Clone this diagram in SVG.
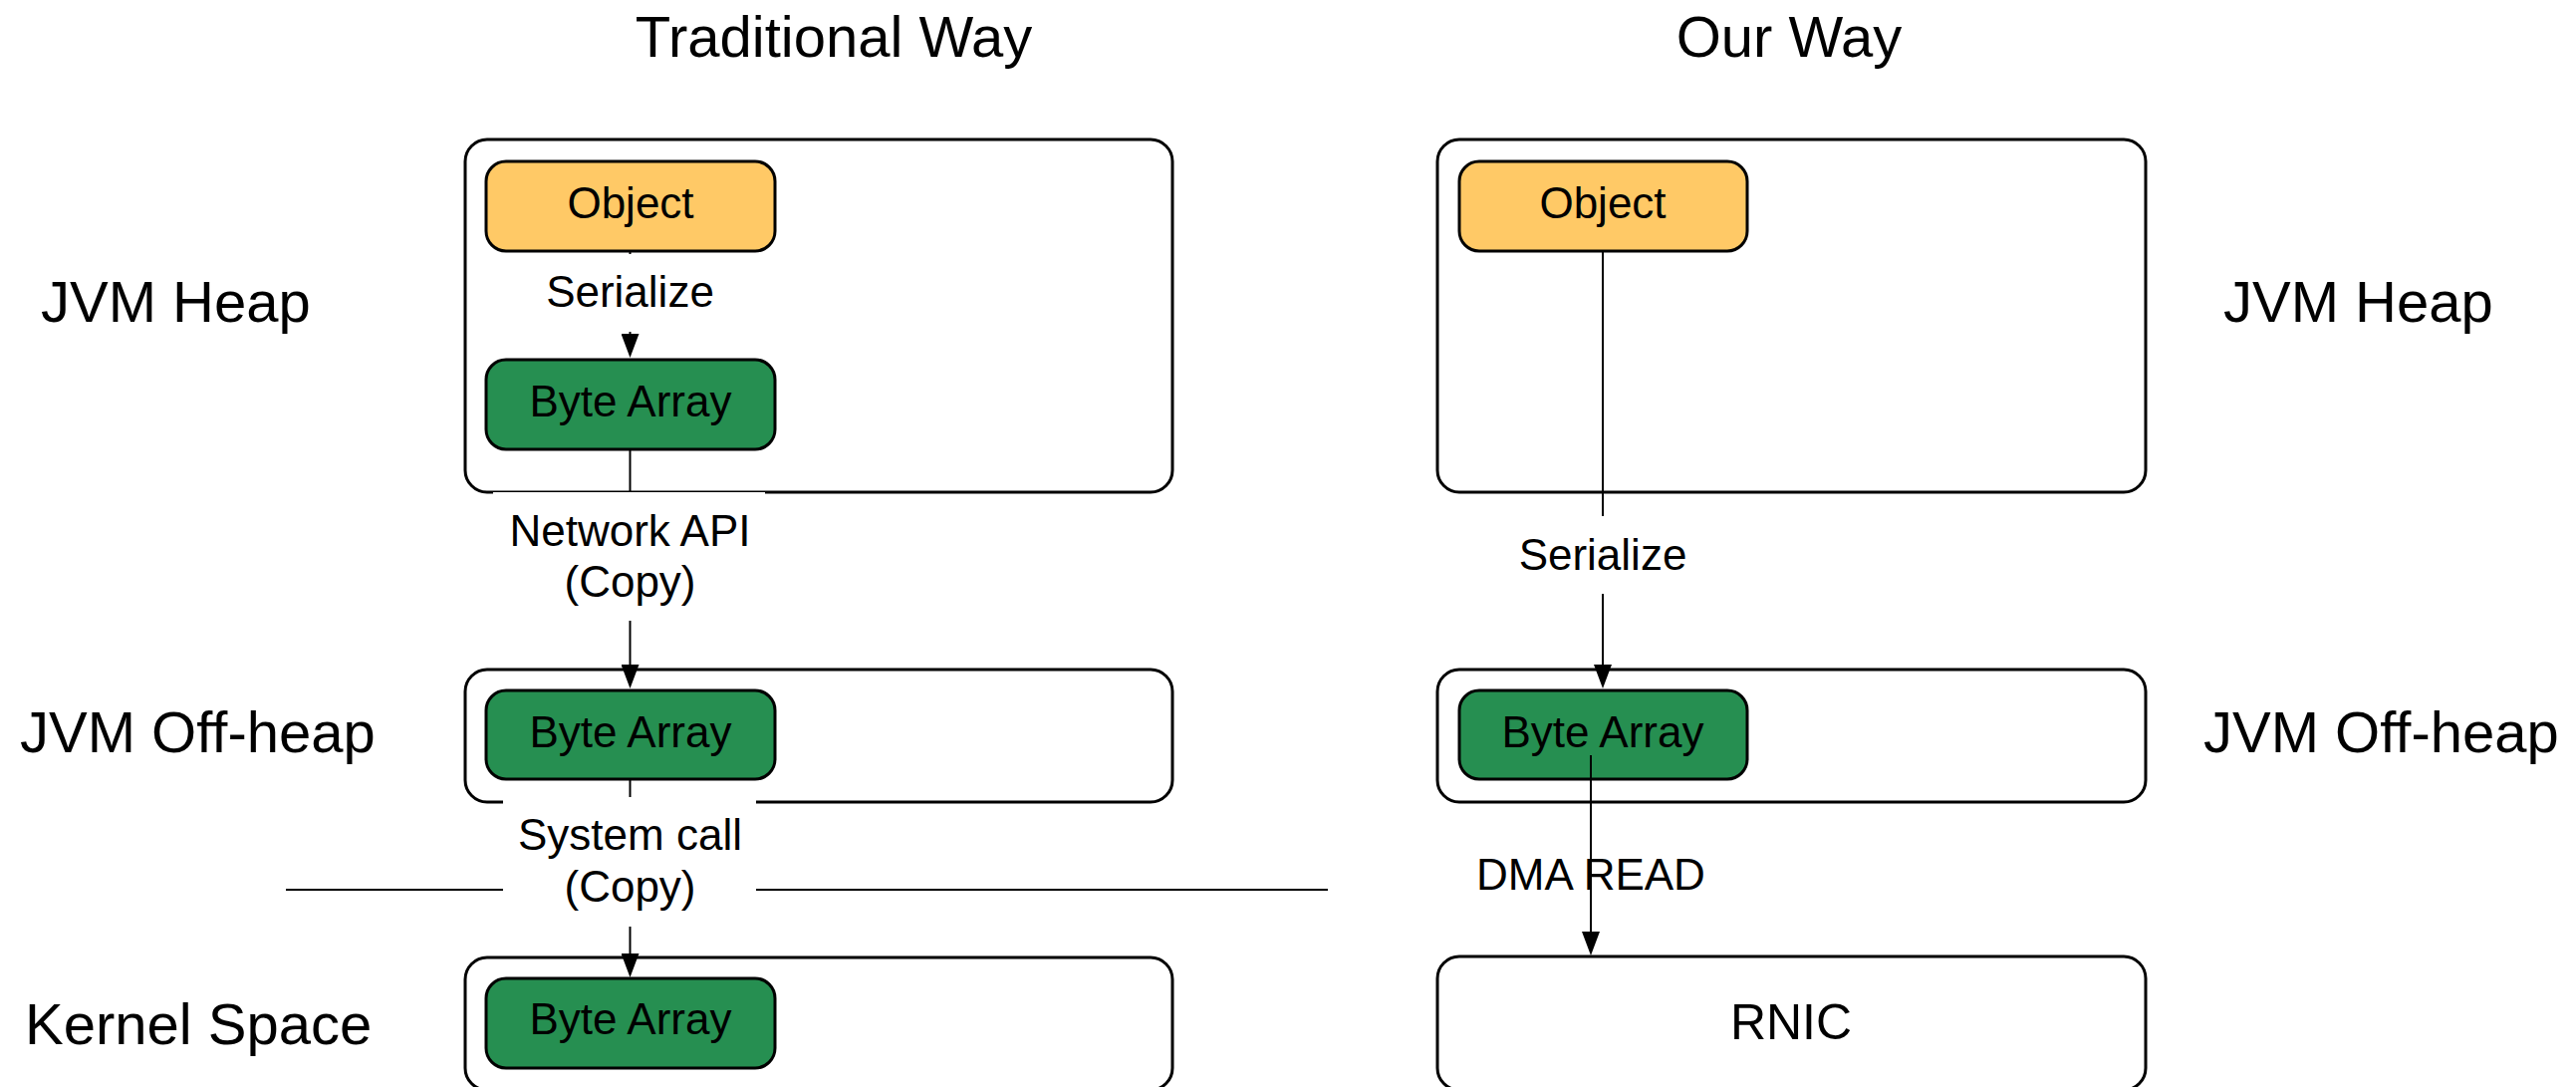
<svg xmlns="http://www.w3.org/2000/svg" width="2586" height="1091" viewBox="0 0 2586 1091">
<style>
  .t { font-family: "Liberation Sans", Arial, sans-serif; fill: #000; }
  .title { font-size: 58px; text-anchor: middle; }
  .side { font-size: 58px; }
  .lbl { font-size: 44px; text-anchor: middle; }
  .outer { fill: #fff; stroke: #000; stroke-width: 3; }
  .obj { fill: #FFC966; stroke: #000; stroke-width: 3; }
  .byte { fill: #268F51; stroke: #000; stroke-width: 3; }
  .conn { stroke: #000; stroke-width: 2; fill: none; marker-end: url(#arrow); }
  .plain { stroke: #000; stroke-width: 2; fill: none; }
  .bg { fill: #fff; stroke: none; }
</style>
<defs>
  <marker id="arrow" markerUnits="userSpaceOnUse" markerWidth="24" markerHeight="18" viewBox="0 0 24 18" refX="0" refY="9" orient="auto">
    <path d="M0,0 L24,9 L0,18 z" fill="#000"/>
  </marker>
</defs>
<rect width="2586" height="1091" fill="#fff"/>

<g id="titles">
  <text class="t title" x="837" y="57">Traditional Way</text>
  <text class="t title" x="1796" y="57">Our Way</text>
</g>

<g id="side-labels">
  <text class="t side" x="41" y="323">JVM Heap</text>
  <text class="t side" x="20" y="755">JVM Off-heap</text>
  <text class="t side" x="25" y="1048">Kernel Space</text>
  <text class="t side" x="2232" y="323">JVM Heap</text>
  <text class="t side" x="2212" y="755">JVM Off-heap</text>
</g>

<g id="separator">
  <line class="plain" x1="287" y1="893" x2="1333" y2="893"/>
</g>

<g id="left-heap">
  <rect class="outer" x="467" y="140" width="710" height="354" rx="22"/>
</g>
<g id="left-offheap">
  <rect class="outer" x="467" y="672" width="710" height="133" rx="22"/>
</g>
<g id="left-kernel">
  <rect class="outer" x="467" y="961" width="710" height="133" rx="22"/>
</g>
<g id="right-heap">
  <rect class="outer" x="1443" y="140" width="711" height="354" rx="22"/>
</g>
<g id="right-offheap">
  <rect class="outer" x="1443" y="672" width="711" height="133" rx="22"/>
</g>
<g id="rnic">
  <rect class="outer" x="1443" y="960" width="711" height="134" rx="22"/>
  <text class="t" x="1798" y="1043" font-size="50" text-anchor="middle">RNIC</text>
</g>

<g id="left-object">
  <rect class="obj" x="488" y="162" width="290" height="90" rx="20"/>
  <text class="t lbl" x="633" y="219">Object</text>
</g>
<g id="left-bytes-heap">
  <rect class="byte" x="488" y="361" width="290" height="90" rx="20"/>
  <text class="t lbl" x="633" y="418">Byte Array</text>
</g>
<g id="left-bytes-offheap">
  <rect class="byte" x="488" y="693" width="290" height="89" rx="20"/>
  <text class="t lbl" x="633" y="750">Byte Array</text>
</g>
<g id="left-bytes-kernel">
  <rect class="byte" x="488" y="982" width="290" height="90" rx="20"/>
  <text class="t lbl" x="633" y="1038">Byte Array</text>
</g>
<g id="right-object">
  <rect class="obj" x="1465" y="162" width="289" height="90" rx="20"/>
  <text class="t lbl" x="1609" y="219">Object</text>
</g>
<g id="right-bytes-offheap">
  <rect class="byte" x="1465" y="693" width="289" height="89" rx="20"/>
  <text class="t lbl" x="1609" y="750">Byte Array</text>
</g>

<g id="connectors">
  <line class="conn" x1="632.5" y1="252" x2="632.5" y2="335"/>
  <line class="conn" x1="632.5" y1="451" x2="632.5" y2="667"/>
  <line class="conn" x1="632.5" y1="782" x2="632.5" y2="957"/>
  <line class="conn" x1="1609" y1="252" x2="1609" y2="667"/>
  <line class="conn" x1="1597" y1="758" x2="1597" y2="935"/>

  <rect class="bg" x="540" y="255" width="185" height="78"/>
  <text class="t lbl" x="632.5" y="308">Serialize</text>

  <rect class="bg" x="495" y="494" width="273" height="129"/>
  <text class="t lbl" x="632.5" y="548">Network API</text>
  <text class="t lbl" x="632.5" y="599">(Copy)</text>

  <rect class="bg" x="505" y="800" width="254" height="130"/>
  <text class="t lbl" x="632.5" y="853">System call</text>
  <text class="t lbl" x="632.5" y="905">(Copy)</text>

  <rect class="bg" x="1515" y="518" width="188" height="78"/>
  <text class="t lbl" x="1609" y="572">Serialize</text>

  <text class="t lbl" x="1597" y="893">DMA READ</text>
</g>
</svg>
